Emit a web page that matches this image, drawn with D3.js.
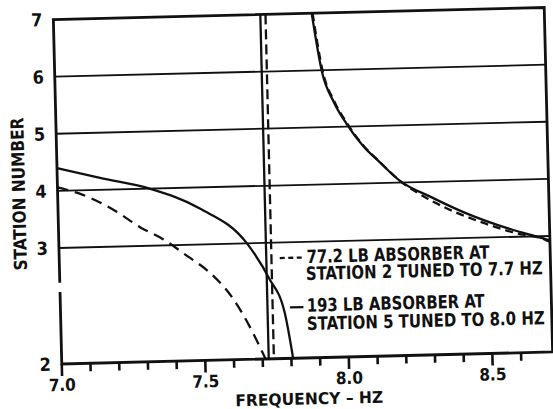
<!DOCTYPE html>
<html lang="en">
<head>
  <meta charset="UTF-8" />
  <title>Station Number vs Frequency</title>
  <script src="https://cdnjs.cloudflare.com/ajax/libs/d3/7.8.4/d3.min.js"></script>
  <style>
    body {
      margin: 0;
      padding: 0;
      background: #fff;
      overflow: hidden;
    }
    svg {
      display: block;
    }
    text {
      font-family: "DejaVu Sans Condensed", "DejaVu Sans", sans-serif;
      font-weight: bold;
      fill: #111;
    }
    .grid {
      stroke: #111;
      stroke-width: 1.8px;
    }
    .frame {
      stroke: #111;
      stroke-width: 2.8px;
      fill: none;
    }
    .curve {
      fill: none;
      stroke: #111;
      stroke-width: 2.3px;
    }
  </style>
</head>
<body>
  <svg width="553" height="409"></svg>
  <script>
    // x axis ticks (Hz)
    const xMajorTicks = [7.0, 7.5, 8.0, 8.5];
    const xMinorTicks = [7.1, 7.2, 7.3, 7.4, 7.6, 7.7, 7.8, 7.9, 8.1, 8.2, 8.3, 8.4, 8.6];
    const xTickLabels = ["7.0", "7.5", "8.0", "8.5"];

    // y axis (broken between 2 and 3)
    const yTicks = [2, 3, 4, 5, 6, 7];
    const yGrid = [3, 4, 5, 6];
    const yBreak = [2.62, 2.70];

    // 193 lb absorber at station 5 (solid)
    const solidLeft = [[7.0, 4.40], [7.149, 4.21], [7.321, 4.0], [7.494, 3.63],
      [7.655, 3.0], [7.728, 2.70], [7.781, 2.39], [7.806, 2.0]];
    const solidRight = [[7.900, 7.0], [7.930, 5.99], [7.970, 5.43], [8.012, 5.05], [8.067, 4.66],
      [8.123, 4.37], [8.193, 4.03], [8.297, 3.74], [8.409, 3.46], [8.583, 3.12], [8.687, 2.98], [8.71, 2.96]];
    const solidAsymptote = 7.721;

    // 77.2 lb absorber at station 2 (dashed)
    const dashedLeft = [[7.0, 4.06], [7.088, 3.92], [7.204, 3.61], [7.284, 3.33], [7.363, 3.11],
      [7.448, 2.90], [7.512, 2.78], [7.601, 2.53], [7.658, 2.28], [7.710, 2.0]];
    const dashedRight = [[7.903, 7.0], [7.933, 5.99], [7.973, 5.43], [8.015, 5.05], [8.069, 4.66],
      [8.124, 4.37], [8.193, 4.03], [8.297, 3.68], [8.468, 3.28], [8.589, 3.07], [8.693, 2.97], [8.71, 2.95]];
    const dashedAsymptote = 7.739;

    const legendLines = [
      ["77.2 LB ABSORBER AT", "STATION 2 TUNED TO 7.7 HZ"],
      ["193 LB ABSORBER AT", "STATION 5 TUNED TO 8.0 HZ"]
    ];

    const plotLeft = 57.5, plotRight = 548.5, plotTop = 13.5, plotBottom = 358;

    const x = d3.scaleLinear().domain([7.0, 8.71]).range([plotLeft, plotRight]);
    const y = d3.scaleLinear().domain([2, 3, 7]).range([plotBottom, 242, plotTop]);

    // the scanned figure sits slightly tilted
    const svg = d3.select("svg")
      .append("g")
      .attr("transform", "rotate(-1.4, 303, 186)");

    svg.append("clipPath").attr("id", "plot")
      .append("rect")
      .attr("x", plotLeft).attr("y", plotTop)
      .attr("width", plotRight - plotLeft).attr("height", plotBottom - plotTop);

    // size a text so it spans `width` with capitals `cap` px tall
    function fitText(sel, width, cap) {
      sel.style("font-size", "18px");
      const fs = 18 * width / sel.node().getComputedTextLength();
      sel.style("font-size", fs + "px");
      return cap / (0.729 * fs);
    }

    // grid lines
    svg.selectAll(".grid")
      .data(yGrid)
      .enter()
      .append("line")
      .attr("class", "grid")
      .attr("x1", plotLeft).attr("x2", plotRight)
      .attr("y1", d => y(d)).attr("y2", d => y(d));

    // x ticks as one path below the axis
    const tickPath = xMajorTicks.concat(xMinorTicks)
      .map(d => `M${x(d)},${plotBottom}V${plotBottom + (xMajorTicks.includes(d) ? 12 : 8)}`)
      .join("");
    svg.append("path")
      .attr("d", tickPath)
      .attr("fill", "none")
      .attr("stroke", "#111")
      .attr("stroke-width", 2.6);

    svg.selectAll(".xlab")
      .data(xMajorTicks)
      .enter()
      .append("text")
      .attr("class", "xlab")
      .attr("x", d => x(d))
      .attr("y", plotBottom + 27)
      .attr("text-anchor", "middle")
      .style("font-size", "17px")
      .text((d, i) => xTickLabels[i]);

    // y labels
    svg.selectAll(".ylab")
      .data(yTicks)
      .enter()
      .append("text")
      .attr("class", "ylab")
      .attr("x", plotLeft - 11)
      .attr("y", d => y(d))
      .attr("dy", "0.36em")
      .attr("text-anchor", "end")
      .style("font-size", "18px")
      .text(d => d);

    // frame, with the break in the left axis
    svg.append("path")
      .attr("class", "frame")
      .attr("d", `M${plotLeft},${y(yBreak[0])}L${plotLeft},${plotBottom}L${plotRight},${plotBottom}` +
        `L${plotRight},${plotTop}L${plotLeft},${plotTop}L${plotLeft},${y(yBreak[1])}`);

    // curves
    const line = d3.line()
      .x(d => x(d[0]))
      .y(d => y(d[1]))
      .curve(d3.curveMonotoneX);

    const plot = svg.append("g").attr("clip-path", "url(#plot)");

    plot.append("path").datum(solidLeft).attr("class", "curve").attr("d", line);
    plot.append("path").datum(solidRight).attr("class", "curve").attr("d", line);
    plot.append("path").datum(dashedLeft).attr("class", "curve")
      .attr("stroke-dasharray", "11,7").attr("d", line);
    plot.append("path").datum(dashedRight).attr("class", "curve")
      .attr("stroke-dasharray", "8,5").attr("d", line);

    plot.append("line").attr("class", "curve")
      .attr("stroke-width", 2.6)
      .attr("x1", x(solidAsymptote)).attr("x2", x(solidAsymptote))
      .attr("y1", y(7)).attr("y2", y(2));
    plot.append("line").attr("class", "curve")
      .attr("stroke-dasharray", "10,5")
      .attr("x1", x(dashedAsymptote)).attr("x2", x(dashedAsymptote))
      .attr("y1", y(7)).attr("y2", y(2));

    // legend
    const legend = svg.append("g");
    legend.append("line").attr("class", "curve")
      .attr("stroke-dasharray", "5,3.5")
      .attr("x1", 278).attr("x2", 302.5)
      .attr("y1", 257.5).attr("y2", 257.5);
    legend.append("line").attr("class", "curve")
      .attr("x1", 287).attr("x2", 300.5)
      .attr("y1", 307).attr("y2", 307);

    const legendPos = [[304.8, 263, 183], [303.7, 280, 237], [303.9, 311.7, 178], [303.5, 330, 238]];
    legendLines.flat().forEach((t, i) => {
      const txt = legend.append("text").text(t);
      const sy = fitText(txt, legendPos[i][2], 13.3);
      txt.attr("transform", `translate(${legendPos[i][0]},${legendPos[i][1]}) scale(1,${sy})`);
    });

    // axis titles
    const yTitle = svg.append("text")
      .attr("text-anchor", "middle")
      .text("STATION NUMBER");
    const syY = fitText(yTitle, 153, 13);
    yTitle.attr("transform", `translate(25,187) rotate(-90) scale(1,${syY})`);

    const xTitle = svg.append("text")
      .attr("text-anchor", "middle")
      .text("FREQUENCY \u2013 HZ");
    const syX = fitText(xTitle, 148, 11.8);
    xTitle.attr("transform", `translate(304,404.5) scale(1,${syX})`);
  </script>
</body>
</html>
